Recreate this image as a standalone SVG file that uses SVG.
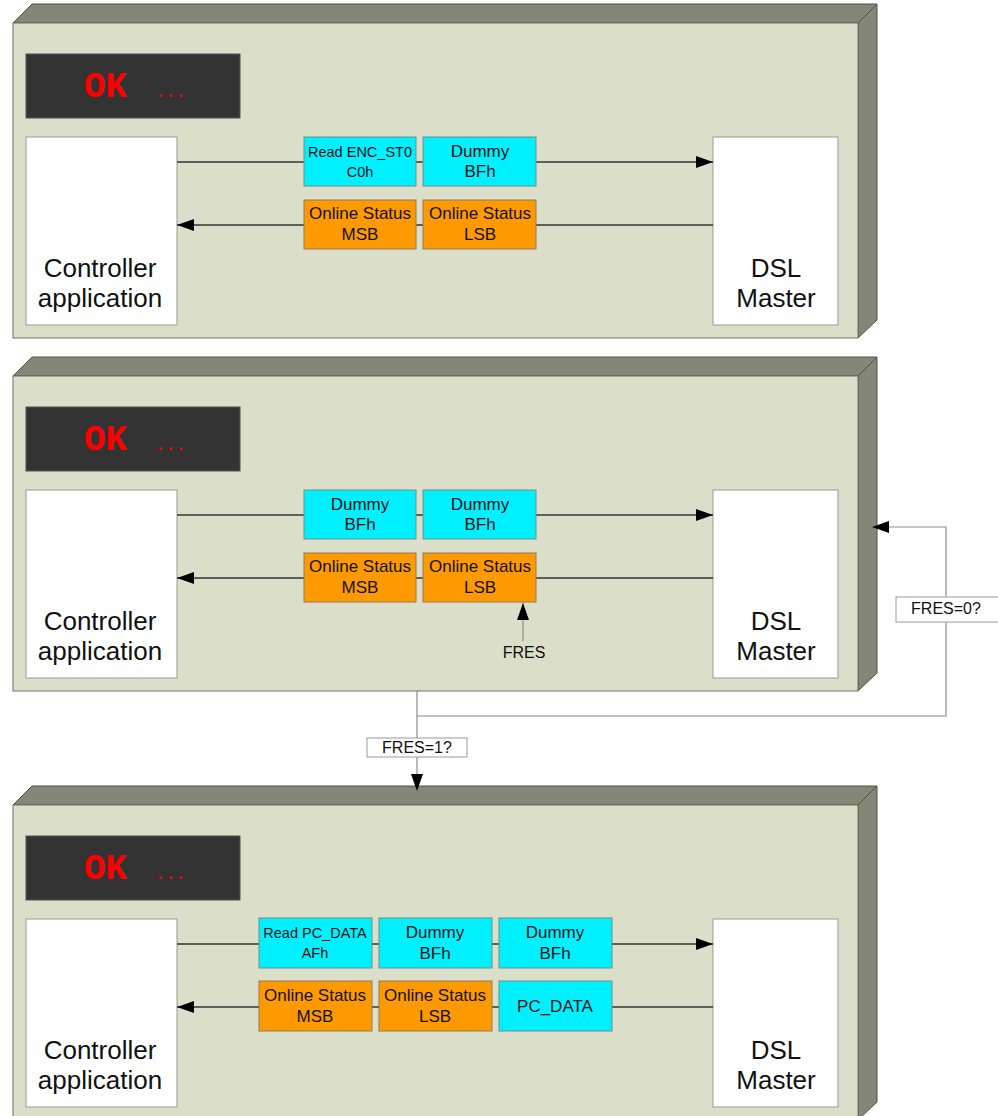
<svg xmlns="http://www.w3.org/2000/svg" width="998" height="1116" viewBox="0 0 998 1116">
<defs>
<style>
.front{fill:#dbdfca;stroke:#6e7166;stroke-width:1}
.side{fill:#848778;stroke:#4f5249;stroke-width:1}
.disp{fill:#333333;stroke:#555;stroke-width:1}
.ok{font-family:"Liberation Mono","Courier New",monospace;font-weight:bold;fill:#ff0000}
.ent{fill:#ffffff;stroke:#9a9a90;stroke-width:1}
.big{font-family:"Liberation Sans",Arial,sans-serif;font-size:26px;fill:#111;text-anchor:middle}
.cy{fill:#00f0ff;stroke:#6f8f88;stroke-width:1}
.or{fill:#ff9900;stroke:#8f7a5a;stroke-width:1}
.t{font-family:"Liberation Sans",Arial,sans-serif;font-size:17px;fill:#111;text-anchor:middle}
.ts{font-family:"Liberation Sans",Arial,sans-serif;font-size:14.5px;fill:#111;text-anchor:middle}
.wire{fill:none;stroke:#333;stroke-width:1.5}
.gwire{fill:none;stroke:#8c8c8c;stroke-width:1.2}
.lbl{fill:#ffffff;stroke:#9a9a9a;stroke-width:1}
.lt{font-family:"Liberation Sans",Arial,sans-serif;font-size:16px;fill:#111;text-anchor:middle}
</style>
<marker id="ah" markerUnits="userSpaceOnUse" markerWidth="18" markerHeight="13" refX="17" refY="6" orient="auto">
<path d="M0,0 L17,6 L0,12 z" fill="#000"/>
</marker>
</defs>

<!-- Panel 1 -->
<g id="panel1">
<polygon class="side" points="13,23 32,4 877,4 858,23"/>
<polygon class="side" points="858,23 877,4 877,320 858,338"/>
<rect class="front" x="13" y="23" width="845" height="315"/>
<g id="p1-display"><rect class="disp" x="26" y="54" width="214" height="64"/>
<text class="ok" x="84" y="97" font-size="36">OK <tspan x="155" font-size="17">...</tspan></text></g>
<g id="p1-controller"><rect class="ent" x="26" y="137" width="151" height="188"/>
<text class="big" x="100" y="277">Controller</text><text class="big" x="100" y="307">application</text></g>
<g id="p1-dsl"><rect class="ent" x="713" y="137" width="125" height="188"/>
<text class="big" x="776" y="277">DSL</text><text class="big" x="776" y="307">Master</text></g>
</g>

<!-- Panel 2 -->
<g id="panel2" transform="translate(0,353)">
<polygon class="side" points="13,23 32,4 877,4 858,23"/>
<polygon class="side" points="858,23 877,4 877,320 858,338"/>
<rect class="front" x="13" y="23" width="845" height="315"/>
<g id="p2-display"><rect class="disp" x="26" y="54" width="214" height="64"/>
<text class="ok" x="84" y="97" font-size="36">OK <tspan x="155" font-size="17">...</tspan></text></g>
<g id="p2-controller"><rect class="ent" x="26" y="137" width="151" height="188"/>
<text class="big" x="100" y="277">Controller</text><text class="big" x="100" y="307">application</text></g>
<g id="p2-dsl"><rect class="ent" x="713" y="137" width="125" height="188"/>
<text class="big" x="776" y="277">DSL</text><text class="big" x="776" y="307">Master</text></g>
</g>

<!-- Panel 3 -->
<g id="panel3" transform="translate(0,782)">
<polygon class="side" points="13,23 32,4 877,4 858,23"/>
<polygon class="side" points="858,23 877,4 877,320 858,338"/>
<rect class="front" x="13" y="23" width="845" height="315"/>
<g id="p3-display"><rect class="disp" x="26" y="54" width="214" height="64"/>
<text class="ok" x="84" y="97" font-size="36">OK <tspan x="155" font-size="17">...</tspan></text></g>
<g id="p3-controller"><rect class="ent" x="26" y="137" width="151" height="188"/>
<text class="big" x="100" y="277">Controller</text><text class="big" x="100" y="307">application</text></g>
<g id="p3-dsl"><rect class="ent" x="713" y="137" width="125" height="188"/>
<text class="big" x="776" y="277">DSL</text><text class="big" x="776" y="307">Master</text></g>
</g>

<!-- Connectors -->
<g id="connectors">
<line class="wire" x1="177" y1="162" x2="713" y2="162" marker-end="url(#ah)"/>
<line class="wire" x1="713" y1="225" x2="177" y2="225" marker-end="url(#ah)"/>
<line class="wire" x1="177" y1="515" x2="713" y2="515" marker-end="url(#ah)"/>
<line class="wire" x1="713" y1="578" x2="177" y2="578" marker-end="url(#ah)"/>
<line class="wire" x1="177" y1="944" x2="713" y2="944" marker-end="url(#ah)"/>
<line class="wire" x1="713" y1="1007" x2="177" y2="1007" marker-end="url(#ah)"/>
<line class="gwire" x1="523" y1="641" x2="523" y2="603" marker-end="url(#ah)"/>
<line class="gwire" x1="417" y1="691" x2="417" y2="791" marker-end="url(#ah)"/>
<polyline class="gwire" points="417,716 946,716 946,527 872,527" marker-end="url(#ah)"/>
</g>

<!-- Packet nodes panel 1 -->
<g id="p1-read"><rect class="cy" x="304" y="137" width="112" height="49"/><text class="ts" x="360" y="157">Read ENC_ST0</text><text class="ts" x="360" y="177">C0h</text></g>
<g id="p1-dummy"><rect class="cy" x="423" y="137" width="113" height="49"/><text class="t" x="480" y="157">Dummy</text><text class="t" x="480" y="177">BFh</text></g>
<g id="p1-msb"><rect class="or" x="304" y="200" width="112" height="49"/><text class="t" x="360" y="219">Online Status</text><text class="t" x="360" y="240">MSB</text></g>
<g id="p1-lsb"><rect class="or" x="423" y="200" width="113" height="49"/><text class="t" x="480" y="219">Online Status</text><text class="t" x="480" y="240">LSB</text></g>

<!-- Packet nodes panel 2 -->
<g id="p2-dummy1"><rect class="cy" x="304" y="490" width="112" height="49"/><text class="t" x="360" y="510">Dummy</text><text class="t" x="360" y="530">BFh</text></g>
<g id="p2-dummy2"><rect class="cy" x="423" y="490" width="113" height="49"/><text class="t" x="480" y="510">Dummy</text><text class="t" x="480" y="530">BFh</text></g>
<g id="p2-msb"><rect class="or" x="304" y="553" width="112" height="49"/><text class="t" x="360" y="572">Online Status</text><text class="t" x="360" y="593">MSB</text></g>
<g id="p2-lsb"><rect class="or" x="423" y="553" width="113" height="49"/><text class="t" x="480" y="572">Online Status</text><text class="t" x="480" y="593">LSB</text></g>
<g id="p2-fres"><text class="lt" x="524" y="658" font-size="15">FRES</text></g>

<!-- Packet nodes panel 3 -->
<g id="p3-read"><rect class="cy" x="259" y="918" width="113" height="50"/><text class="ts" x="315" y="938">Read PC_DATA</text><text class="ts" x="315" y="958">AFh</text></g>
<g id="p3-dummy1"><rect class="cy" x="379" y="918" width="113" height="50"/><text class="t" x="435" y="938">Dummy</text><text class="t" x="435" y="959">BFh</text></g>
<g id="p3-dummy2"><rect class="cy" x="499" y="918" width="113" height="50"/><text class="t" x="555" y="938">Dummy</text><text class="t" x="555" y="959">BFh</text></g>
<g id="p3-msb"><rect class="or" x="259" y="981" width="113" height="50"/><text class="t" x="315" y="1001">Online Status</text><text class="t" x="315" y="1022">MSB</text></g>
<g id="p3-lsb"><rect class="or" x="379" y="981" width="113" height="50"/><text class="t" x="435" y="1001">Online Status</text><text class="t" x="435" y="1022">LSB</text></g>
<g id="p3-pcdata"><rect class="cy" x="499" y="981" width="113" height="50"/><text class="t" x="555" y="1012">PC_DATA</text></g>

<!-- Connector labels -->
<g id="label-fres0"><rect class="lbl" x="896" y="597" width="104" height="25"/><text class="lt" x="946" y="614">FRES=0?</text></g>
<g id="label-fres1"><rect class="lbl" x="367" y="738" width="100" height="19"/><text class="lt" x="417" y="753">FRES=1?</text></g>
</svg>
